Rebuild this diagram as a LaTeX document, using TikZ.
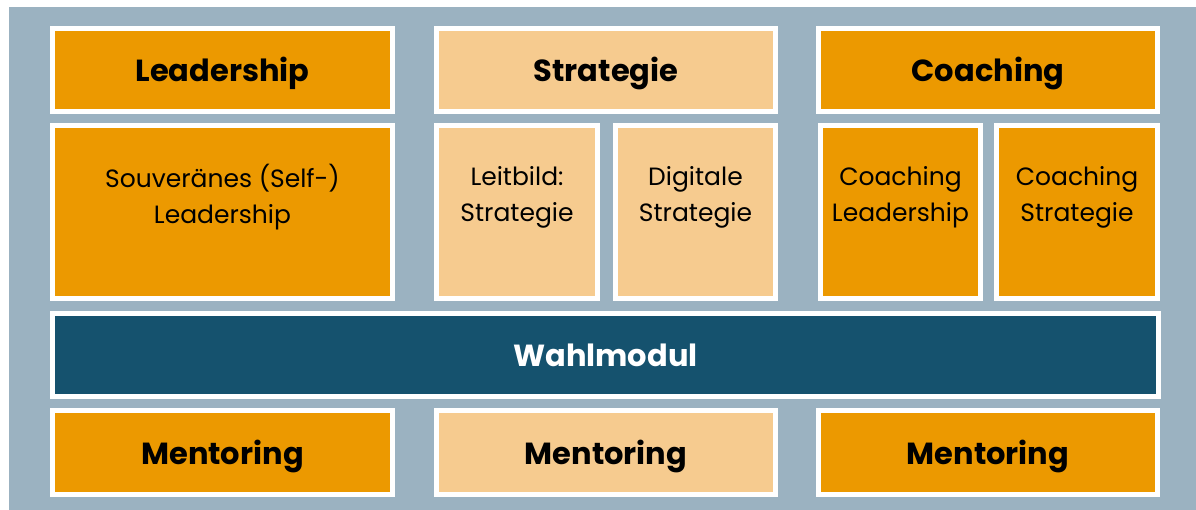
\documentclass[tikz,border=0pt]{standalone}
\usepackage{fontspec}
\setmainfont{Poppins}
\definecolor{bggray}{RGB}{155,178,193}
\definecolor{orangeA}{RGB}{236,153,0}
\definecolor{orangeB}{RGB}{246,203,143}
\definecolor{darkblue}{RGB}{21,82,110}
\tikzset{
  box/.style={draw=white, line width=5pt, inner sep=0pt, outer sep=0pt},
  hdr/.style={box, text height=23pt, text depth=0pt, font=\fontsize{30.5}{34}\selectfont\bfseries},
  sub/.style={box},
  subtxt/.style={align=center, inner sep=0pt, font=\fontsize{25}{36}\selectfont},
}
\begin{document}
\begin{tikzpicture}[x=1pt,y=-1pt]
\useasboundingbox (0,0) rectangle (1196,510);
\fill[white] (0,0) rectangle (1196,510);
\fill[bggray] (9,7) rectangle (1196,510);
% Row 1 headers
\node[hdr, fill=orangeA, minimum width=340, minimum height=83] (h1) at (222.5,70) {Leadership};
\node[hdr, fill=orangeB, minimum width=339, minimum height=83] (h2) at (606,70) {Strategie};
\node[hdr, fill=orangeA, minimum width=339, minimum height=83] (h3) at (988,70) {Coaching};
% Row 2
\node[sub, fill=orangeA, minimum width=340, minimum height=173] (s1) at (222.5,212) {};
\node[sub, fill=orangeB, minimum width=161, minimum height=173] (s2) at (517,212) {};
\node[sub, fill=orangeB, minimum width=160, minimum height=173] (s3) at (695.5,212) {};
\node[sub, fill=orangeA, minimum width=160, minimum height=173] (s4) at (900.5,212) {};
\node[sub, fill=orangeA, minimum width=161, minimum height=173] (s5) at (1077,212) {};
\node[subtxt] (t1) at (s1.center |- 0,197) {Souveränes (Self-)\\Leadership};
\node[subtxt] (t2) at (s2.center |- 0,197) {Leitbild:\\Strategie};
\node[subtxt] (t3) at (s3.center |- 0,197) {Digitale\\Strategie};
\node[subtxt] (t4) at (s4.center |- 0,197) {Coaching\\Leadership};
\node[subtxt] (t5) at (s5.center |- 0,197) {Coaching\\Strategie};
% Wahlmodul
\node[hdr, fill=darkblue, text=white, minimum width=1106, minimum height=83] (w) at (605.5,355) {Wahlmodul};
% Row 4
\node[hdr, fill=orangeA, minimum width=340, minimum height=84] (m1) at (222.5,452.5) {Mentoring};
\node[hdr, fill=orangeB, minimum width=339, minimum height=84] (m2) at (606,452.5) {Mentoring};
\node[hdr, fill=orangeA, minimum width=339, minimum height=84] (m3) at (988,452.5) {Mentoring};
\end{tikzpicture}
\end{document}
